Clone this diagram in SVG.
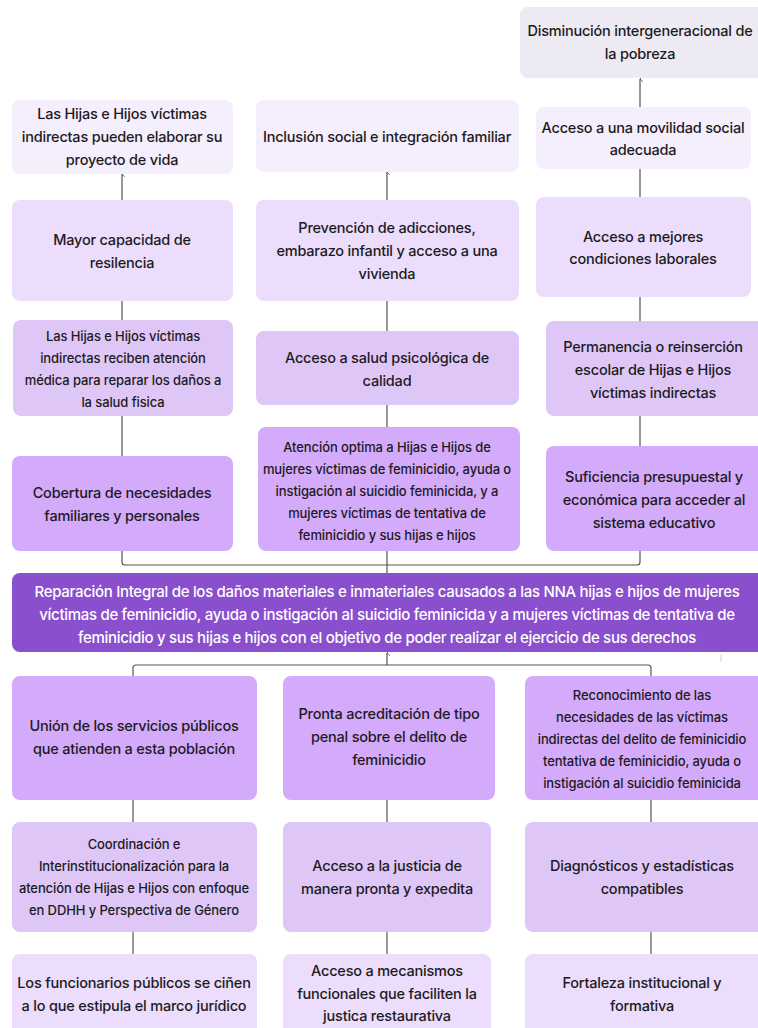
<svg xmlns="http://www.w3.org/2000/svg" width="758" height="1028" viewBox="0 0 758 1028">
<defs>
<style>
text{font-family:Inter,"Noto Sans","Liberation Sans",sans-serif;font-size:14.5px;font-weight:500;fill:#1c1a22;text-anchor:middle;letter-spacing:-0.2px}
.s{font-size:13px;letter-spacing:-0.1px}
.w{fill:#ffffff;font-size:15px;letter-spacing:-0.3px}
.c0{fill:#EDEAF3}
.c1{fill:#F5EEFD}
.c2{fill:#EBDDFB}
.c3{fill:#DEC7F7}
.c4{fill:#D4AAFB}
.cm{fill:#8A4FCD}
.ln{fill:none;stroke:#555;stroke-width:1.2}
</style>
<marker id="ar" viewBox="0 0 10 10" refX="5" refY="1" markerWidth="7" markerHeight="7" orient="auto-start-reverse" markerUnits="userSpaceOnUse">
<path d="M1,5 L5,1 L9,5" fill="none" stroke="#555" stroke-width="1.2"/>
</marker>
</defs>
<rect width="758" height="1028" fill="#ffffff"/>

<g id="connectors">
<line class="ln" x1="640" y1="107" x2="640" y2="79" marker-end="url(#ar)"/>
<line class="ln" x1="122" y1="200" x2="122" y2="174" marker-end="url(#ar)"/>
<line class="ln" x1="387" y1="200" x2="387" y2="172" marker-end="url(#ar)"/>
<line class="ln" x1="640" y1="169" x2="640" y2="197"/>
<line class="ln" x1="122" y1="301" x2="122" y2="320"/>
<line class="ln" x1="387" y1="301" x2="387" y2="331"/>
<line class="ln" x1="640" y1="297" x2="640" y2="321"/>
<line class="ln" x1="122" y1="416" x2="122" y2="456"/>
<line class="ln" x1="387" y1="405" x2="387" y2="427"/>
<line class="ln" x1="640" y1="416" x2="640" y2="446"/>
<path class="ln" d="M122,551 V562 Q122,565 125,565 H637 Q640,565 640,562 V551"/>
<line class="ln" x1="387" y1="551" x2="387" y2="573"/>
<line class="ln" x1="387" y1="665" x2="387" y2="653" marker-end="url(#ar)"/>
<path class="ln" d="M133,676 V668 Q133,665 136,665 H648 Q651,665 651,668 V676"/>
<line class="ln" x1="133" y1="800" x2="133" y2="822"/>
<line class="ln" x1="387" y1="800" x2="387" y2="822"/>
<line class="ln" x1="651" y1="800" x2="651" y2="822"/>
<line class="ln" x1="133" y1="932" x2="133" y2="954"/>
<line class="ln" x1="387" y1="932" x2="387" y2="954"/>
<line class="ln" x1="651" y1="932" x2="651" y2="954"/>
<line x1="721" y1="655" x2="721" y2="662" stroke="#cfcfcf" stroke-width="1"/>
</g>

<g id="n-pobreza"><rect class="c0" x="520" y="7" width="246" height="71" rx="8"/>
<text x="640" y="36">Disminución intergeneracional de</text><text x="640" y="59">la pobreza</text></g>

<g id="n-proyecto"><rect class="c1" x="12" y="100" width="221" height="74" rx="8"/>
<text x="122" y="119">Las Hijas e Hijos víctimas</text><text x="122" y="142">indirectas pueden elaborar su</text><text x="122" y="165">proyecto de vida</text></g>

<g id="n-inclusion"><rect class="c1" x="256" y="100" width="263" height="72" rx="8"/>
<text x="387" y="142">Inclusión social e integración familiar</text></g>

<g id="n-movilidad"><rect class="c1" x="536" y="107" width="215" height="62" rx="8"/>
<text x="643" y="133">Acceso a una movilidad social</text><text x="643" y="155">adecuada</text></g>

<g id="n-resilencia"><rect class="c2" x="12" y="200" width="221" height="101" rx="8"/>
<text x="122" y="245">Mayor capacidad de</text><text x="122" y="268">resilencia</text></g>

<g id="n-prevencion"><rect class="c2" x="256" y="200" width="263" height="101" rx="8"/>
<text x="387" y="233">Prevención de adicciones,</text><text x="387" y="256">embarazo infantil  y acceso a una</text><text x="387" y="279">vivienda</text></g>

<g id="n-laborales"><rect class="c2" x="536" y="197" width="215" height="100" rx="8"/>
<text x="643" y="242">Acceso a mejores</text><text x="643" y="264">condiciones laborales</text></g>

<g id="n-medica"><rect class="c3" x="13" y="320" width="220" height="96" rx="8"/>
<text class="s" x="123" y="341">Las Hijas e Hijos víctimas</text><text class="s" x="123" y="363">indirectas reciben atención</text><text class="s" x="123" y="385">médica para reparar los daños a</text><text class="s" x="123" y="407">la salud fisica</text></g>

<g id="n-psicologica"><rect class="c3" x="256" y="331" width="263" height="74" rx="8"/>
<text x="387" y="363">Acceso a salud psicológica de</text><text x="387" y="386">calidad</text></g>

<g id="n-escolar"><rect class="c3" x="546" y="321" width="220" height="95" rx="8"/>
<text x="653" y="352">Permanencia o reinserción</text><text x="653" y="375">escolar de Hijas e Hijos</text><text x="653" y="398">víctimas indirectas</text></g>

<g id="n-cobertura"><rect class="c4" x="12" y="456" width="221" height="95" rx="8"/>
<text x="122" y="498">Cobertura de necesidades</text><text x="122" y="521">familiares y personales</text></g>

<g id="n-atencion"><rect class="c4" x="258" y="427" width="262" height="124" rx="8"/>
<text class="s" x="387" y="452">Atención optima a Hijas e Hijos de</text><text class="s" x="387" y="474">mujeres víctimas de feminicidio, ayuda o</text><text class="s" x="387" y="496">instigación al suicidio feminicida, y a</text><text class="s" x="387" y="518">mujeres víctimas de tentativa de</text><text class="s" x="387" y="540">feminicidio y sus hijas e hijos</text></g>

<g id="n-presupuestal"><rect class="c4" x="546" y="446" width="220" height="105" rx="8"/>
<text x="654" y="482">Suficiencia presupuestal y</text><text x="654" y="505">económica para acceder al</text><text x="654" y="528">sistema educativo</text></g>

<g id="n-reparacion"><rect class="cm" x="12" y="573" width="760" height="79" rx="8"/>
<text class="w" x="387" y="597">Reparación Integral de los daños materiales e inmateriales causados a las NNA hijas e hijos de mujeres</text><text class="w" x="387" y="620">víctimas de feminicidio, ayuda o instigación al suicidio feminicida y a mujeres víctimas de tentativa de</text><text class="w" x="387" y="643">feminicidio y sus hijas e hijos con el objetivo de poder realizar el ejercicio de sus derechos</text></g>

<g id="n-union"><rect class="c4" x="12" y="676" width="245" height="124" rx="8"/>
<text x="134" y="731">Unión de los servicios públicos</text><text x="134" y="754">que atienden a esta población</text></g>

<g id="n-pronta"><rect class="c4" x="283" y="676" width="212" height="124" rx="8"/>
<text x="389" y="719">Pronta  acreditación de tipo</text><text x="389" y="742">penal sobre el delito de</text><text x="389" y="765">feminicidio</text></g>

<g id="n-reconocimiento"><rect class="c4" x="525" y="676" width="245" height="124" rx="8"/>
<text class="s" x="642" y="700">Reconocimiento de las</text><text class="s" x="642" y="722">necesidades de las  víctimas</text><text class="s" x="642" y="744">indirectas del delito de feminicidio</text><text class="s" x="642" y="766">tentativa de feminicidio, ayuda o</text><text class="s" x="642" y="788">instigación al suicidio feminicida</text></g>

<g id="n-coordinacion"><rect class="c3" x="12" y="822" width="245" height="110" rx="8"/>
<text class="s" x="134" y="849">Coordinación e</text><text class="s" x="134" y="871">Interinstitucionalización para la</text><text class="s" x="134" y="893">atención de Hijas e Hijos con  enfoque</text><text class="s" x="134" y="915">en DDHH y Perspectiva de Género</text></g>

<g id="n-justicia"><rect class="c3" x="283" y="822" width="208" height="110" rx="8"/>
<text x="387" y="871">Acceso a la justicia de</text><text x="387" y="894">manera pronta y expedita</text></g>

<g id="n-diagnosticos"><rect class="c3" x="525" y="822" width="245" height="110" rx="8"/>
<text x="642" y="871">Diagnósticos y estadísticas</text><text x="642" y="894">compatibles</text></g>

<g id="n-funcionarios"><rect class="c2" x="12" y="954" width="245" height="90" rx="8"/>
<text x="134" y="988">Los funcionarios públicos se ciñen</text><text x="134" y="1011">a lo que estipula el marco jurídico</text></g>

<g id="n-mecanismos"><rect class="c2" x="283" y="954" width="208" height="90" rx="8"/>
<text x="387" y="976">Acceso a mecanismos</text><text x="387" y="999">funcionales que faciliten la</text><text x="387" y="1021">justica restaurativa</text></g>

<g id="n-fortaleza"><rect class="c2" x="525" y="954" width="245" height="90" rx="8"/>
<text x="642" y="988">Fortaleza institucional y</text><text x="642" y="1011">formativa</text></g>
</svg>
